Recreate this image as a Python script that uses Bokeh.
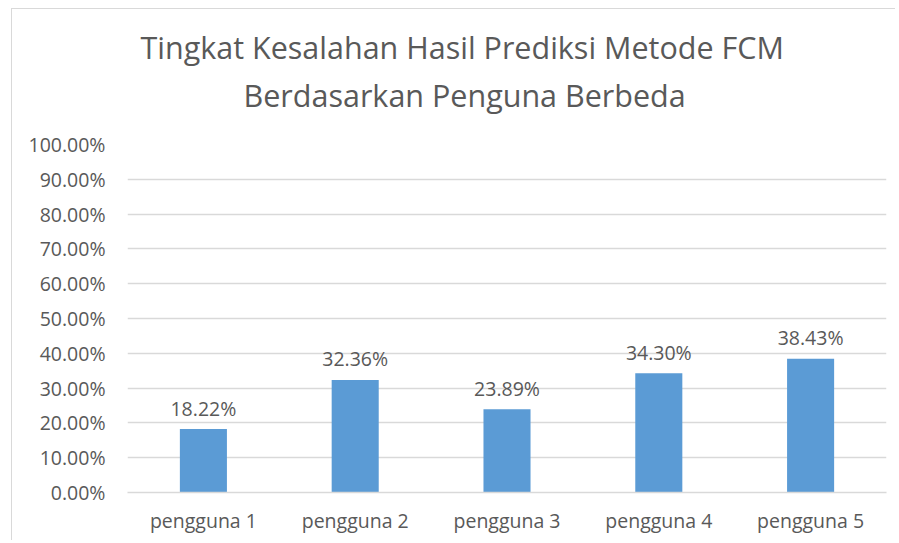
from bokeh.plotting import figure
from bokeh.models import (ColumnDataSource, LabelSet, Title, NumeralTickFormatter,
                          FactorRange, Range1d, FixedTicker)
from bokeh.core.properties import value
from bokeh.embed import file_html
from bokeh.resources import INLINE

categories = ["pengguna 1", "pengguna 2", "pengguna 3", "pengguna 4", "pengguna 5"]
error_rates = [0.1822, 0.3236, 0.2389, 0.3430, 0.3843]
y_ticks = [0.0, 0.1, 0.2, 0.3, 0.4, 0.5, 0.6, 0.7, 0.8, 0.9, 1.0]
title_lines = ["Tingkat Kesalahan Hasil Prediksi Metode FCM",
               "Berdasarkan Penguna Berbeda"]

TEXT = "#595959"
GRID = "#d9d9d9"
FONT = "Open Sans"
FS = "19.5px"

source = ColumnDataSource(dict(
    cat=categories,
    val=error_rates,
    lab=[f"{v * 100:.2f}%" for v in error_rates],
))

p = figure(x_range=FactorRange(factors=categories), y_range=Range1d(0, 1),
           width=884, height=532, output_backend="svg", toolbar_location=None,
           title=None, min_border_left=115, min_border_right=10,
           min_border_bottom=49, min_border_top=135)

# spacer between plot area and the two-line title (panels stack upward)
p.add_layout(Title(text=" ", text_font_size="1px", standoff=26), "above")
for txt, off, so in [(title_lines[1], 116, 0), (title_lines[0], 13, 8)]:
    p.add_layout(Title(text=txt, align="left", offset=off, standoff=so,
                       text_font=FONT, text_font_size="30.5px",
                       text_font_style="normal", text_color=TEXT), "above")

p.vbar(x="cat", top="val", width=0.31, source=source,
       fill_color="#5b9bd5", line_color=None)

p.add_layout(LabelSet(x="cat", y="val", text="lab", source=source,
                      text_align="center", text_baseline="middle", y_offset=21,
                      text_font=value(FONT), text_font_size=FS,
                      text_color=TEXT))

p.outline_line_color = None
p.xgrid.grid_line_color = None
p.ygrid.grid_line_color = GRID
p.ygrid.grid_line_width = 1.5

p.yaxis.ticker = FixedTicker(ticks=y_ticks)
p.yaxis.formatter = NumeralTickFormatter(format="0.00%")
p.yaxis.axis_line_color = None
p.yaxis.major_label_standoff = 22

p.xaxis.axis_line_color = GRID
p.xaxis.axis_line_width = 1.5
p.xaxis.major_label_standoff = 14

for ax in (p.xaxis, p.yaxis):
    ax.major_tick_line_color = None
    ax.minor_tick_line_color = None
    ax.major_tick_out = 0
    ax.major_tick_in = 0
    ax.minor_tick_out = 0
    ax.major_label_text_font = FONT
    ax.major_label_text_font_size = FS
    ax.major_label_text_color = TEXT

p.margin = (8, 0, 0, 11)
p.styles = {"border-top": "1px solid #d9d9d9", "border-left": "1px solid #d9d9d9"}

open("out.html", "w").write(file_html(p, INLINE))
